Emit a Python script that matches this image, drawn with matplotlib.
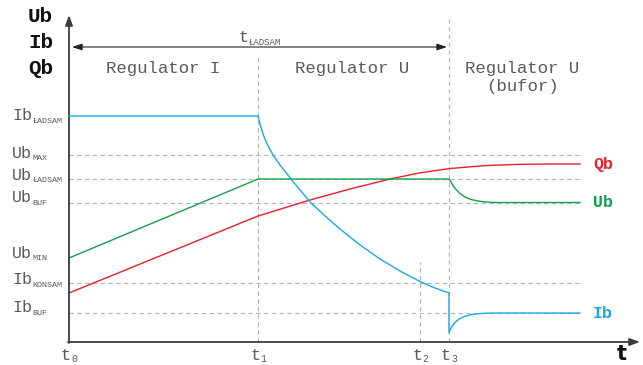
import matplotlib
matplotlib.use("Agg")
import matplotlib.pyplot as plt

# time marks (x units) and levels (y units)
t_marks = {"t0": 0, "t1": 189, "t2": 351, "t3": 380}
t_end = 511

levels = {"Ib_LADSAM": 226, "Ub_MAX": 187, "Ub_LADSAM": 163, "Ub_BUF": 139.5,
          "Ub_MIN": 84, "Ib_KONSAM": 59, "Ib_BUF": 29}

# Ib curve (blue)
ib_t = [0, 189, 191, 194, 198, 204, 211, 222, 231, 242, 255, 271, 291, 311, 331, 352, 366, 380,
        380, 382, 384, 387, 391, 396, 402, 409, 417, 426, 511]
ib_v = [226, 226, 218, 208, 198, 187, 177, 163, 152, 139, 127, 113, 97, 83, 71, 60, 54, 49,
        9, 14, 17, 20.5, 23.5, 25.7, 27.3, 28.3, 28.8, 29, 29]

# Ub curve (green)
ub_t = [0, 189, 380, 382, 384, 387, 391, 396, 402, 409, 417, 426, 511]
ub_v = [84, 163, 163, 160, 156.5, 152.5, 148.5, 145, 142.5, 141, 140, 139.5, 139.5]

# Qb curve (red)
qb_t = [0, 189, 241, 281, 321, 351, 381, 416, 448, 481, 511]
qb_v = [49, 126, 142, 153, 163, 169.2, 173.5, 176.4, 177.6, 178, 178]

# left labels: (main, sub, y of main text)
left_labels = [("Ib", "ŁADSAM", 226), ("Ub", "MAX", 189), ("Ub", "ŁADSAM", 167),
               ("Ub", "BUF", 144), ("Ub", "MIN", 89), ("Ib", "KONSAM", 62),
               ("Ib", "BUF", 34)]
dashed_levels = ["Ub_MAX", "Ub_LADSAM", "Ub_BUF", "Ib_KONSAM", "Ib_BUF"]

BLUE = "#1aa9e1"
GREEN = "#14a04f"
RED = "#ec1f2b"
GRAY = "#b4b4b4"
TXT = "#5a5a5a"
MONO = "Liberation Mono"

fig = plt.figure(figsize=(6.43, 3.65), dpi=100)
ax = fig.add_axes([0, 0, 1, 1])
ax.set_xlim(-69, 574)
ax.set_ylim(-23, 342)
ax.axis("off")

dash = dict(color=GRAY, lw=0.8, ls=(0, (4, 3)), zorder=1)
for k in dashed_levels:
    ax.plot([0, t_end], [levels[k], levels[k]], **dash)
ax.plot([t_marks["t1"]] * 2, [0, 285], **dash)
ax.plot([t_marks["t2"]] * 2, [0, 80], **dash)
ax.plot([t_marks["t3"]] * 2, [0, 324], **dash)

ax.plot(qb_t, qb_v, color=RED, lw=1.0, zorder=3)
ax.plot(ub_t, ub_v, color=GREEN, lw=1.0, zorder=3)
ax.plot(ib_t, ib_v, color=BLUE, lw=1.0, zorder=4)

# axes with arrows
arr = dict(arrowstyle="-|>,head_length=0.6,head_width=0.22", color="#3c3c3c", lw=1.3,
           shrinkA=0, shrinkB=0)
ax.annotate("", xy=(0, 327), xytext=(0, -1), arrowprops=arr)
ax.annotate("", xy=(571, 0), xytext=(-1, 0), arrowprops=arr)

# t_LADSAM double arrow
ax.annotate("", xy=(378, 295), xytext=(3, 295),
            arrowprops=dict(arrowstyle="<|-|>,head_length=0.6,head_width=0.2",
                            color="#222222", lw=0.8, shrinkA=0, shrinkB=0))


def sub_label(x, y, main, sub, fs=12, sfs=6, color=TXT, dy=-4):
    ax.text(x, y, main, fontsize=fs, family=MONO, color=color, ha="left", va="center")
    ax.annotate(sub, xy=(x, y), xytext=(0.6 * fs * len(main) + 0.5, dy),
                textcoords="offset points", fontsize=sfs, family=MONO, color=color,
                ha="left", va="center")


sub_label(169, 304, "t", "ŁADSAM", fs=12, sfs=6.5, dy=-3)

for main, sub, y in left_labels:
    sub_label(-57, y, main, sub, dy=-4)

for name, t in t_marks.items():
    sub_label(t - 8, -13, "t", name[1], fs=12, sfs=7, dy=-3)

ax.text(94, 274, "Regulator I", fontsize=12.5, family=MONO, color=TXT, ha="center", va="center")
ax.text(283, 274, "Regulator U", fontsize=12.5, family=MONO, color=TXT, ha="center", va="center")
ax.text(453, 274, "Regulator U", fontsize=12.5, family=MONO, color=TXT, ha="center", va="center")
ax.text(453, 256, "(bufor)", fontsize=12.5, family=MONO, color=TXT, ha="center", va="center")

for txt, y in [("Ub", 325), ("Ib", 300), ("Qb", 274)]:
    ax.text(-16, y, txt, fontsize=15, family=MONO, weight="bold", color="#111111",
            ha="right", va="center")

ax.text(524, 178, "Qb", fontsize=12, family=MONO, weight="bold", color=RED, ha="left", va="center")
ax.text(524, 139.5, "Ub", fontsize=12, family=MONO, weight="bold", color=GREEN, ha="left", va="center")
ax.text(524, 29, "Ib", fontsize=12, family=MONO, weight="bold", color=BLUE, ha="left", va="center")

ax.text(553, -17.5, "t", fontsize=15, family="DejaVu Sans", weight="bold", color="#111111",
        ha="center", va="baseline")

fig.savefig("out.png", dpi=100)
